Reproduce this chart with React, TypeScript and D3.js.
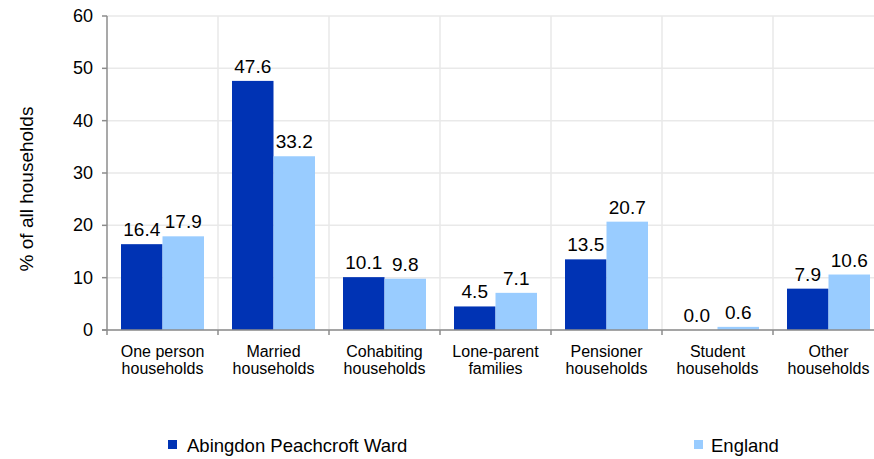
import React from "react";
import * as d3 from "d3";

const categories = [
  ["One person", "households"],
  ["Married", "households"],
  ["Cohabiting", "households"],
  ["Lone-parent", "families"],
  ["Pensioner", "households"],
  ["Student", "households"],
  ["Other", "households"],
];
const seriesNames = ["Abingdon Peachcroft Ward", "England"];
const ward = [16.4, 47.6, 10.1, 4.5, 13.5, 0.0, 7.9];
const england = [17.9, 33.2, 9.8, 7.1, 20.7, 0.6, 10.6];
const yTicks = [0, 10, 20, 30, 40, 50, 60];
const colors = ["#0033b4", "#99ccff"];

export default function App() {
  const W = 874, H = 459;
  const left = 107, top = 16, bottom = 330;
  const step = 111;
  const right = left + step * categories.length;
  const y = d3.scaleLinear().domain([0, 60]).range([bottom, top]);
  const x = d3.scaleBand<number>().domain(d3.range(categories.length)).range([left, right]).paddingInner(0).paddingOuter(0);
  const inner = d3.scaleBand<number>().domain([0, 1]).range([14, step - 14]);
  const font = "'Liberation Sans', Arial, sans-serif";
  const series = [ward, england];
  return (
    <svg width={W} height={H} style={{ position: "absolute", left: 0, top: 0, fontFamily: font }}>
      <rect width={W} height={H} fill="#fff" />
      {yTicks.map((t) => (
        <line key={"g" + t} x1={left} x2={right} y1={y(t)} y2={y(t)} stroke="#e9e9e9" strokeWidth={1.5} />
      ))}
      {d3.range(1, categories.length + 1).map((i) => (
        <line key={"v" + i} x1={left + i * step} x2={left + i * step} y1={top} y2={bottom} stroke="#e9e9e9" strokeWidth={1.5} />
      ))}
      {series.map((vals, s) =>
        vals.map((v, i) => (
          <rect key={s + "-" + i} x={x(i)! + inner(s)!} y={y(v)} width={inner.bandwidth()} height={bottom - y(v)} fill={colors[s]} />
        ))
      )}
      {series.map((vals, s) =>
        vals.map((v, i) => (
          <text key={"l" + s + "-" + i} x={x(i)! + inner(s)! + inner.bandwidth() / 2} y={y(v) - 8} textAnchor="middle" fontSize={19} fill="#000">
            {v.toFixed(1)}
          </text>
        ))
      )}
      <line x1={left} x2={left} y1={top} y2={bottom + 5} stroke="#8c8c8c" strokeWidth={1.5} />
      <line x1={left - 5} x2={right} y1={bottom} y2={bottom} stroke="#8c8c8c" strokeWidth={1.5} />
      {yTicks.map((t) => (
        <g key={"t" + t}>
          <line x1={left - 5} x2={left} y1={y(t)} y2={y(t)} stroke="#8c8c8c" strokeWidth={1.5} />
          <text x={left - 14} y={y(t) + 6} textAnchor="end" fontSize={18} fill="#000">{t}</text>
        </g>
      ))}
      {d3.range(1, categories.length + 1).map((i) => (
        <line key={"xt" + i} x1={left + i * step} x2={left + i * step} y1={bottom} y2={bottom + 5} stroke="#8c8c8c" strokeWidth={1.5} />
      ))}
      {categories.map((c, i) => (
        <text key={"c" + i} x={x(i)! + step / 2} textAnchor="middle" fontSize={16} fill="#000">
          <tspan x={x(i)! + step / 2} y={357}>{c[0]}</tspan>
          <tspan x={x(i)! + step / 2} y={374}>{c[1]}</tspan>
        </text>
      ))}
      <text transform={`translate(33,189) rotate(-90)`} textAnchor="middle" fontSize={19} fill="#000">% of all households</text>
      <rect x={168} y={440} width={9} height={9} fill={colors[0]} />
      <text x={187} y={452} fontSize={18.5} fill="#000">{seriesNames[0]}</text>
      <rect x={694} y={440} width={9} height={9} fill={colors[1]} />
      <text x={711} y={452} fontSize={18.5} fill="#000">{seriesNames[1]}</text>
    </svg>
  );
}
